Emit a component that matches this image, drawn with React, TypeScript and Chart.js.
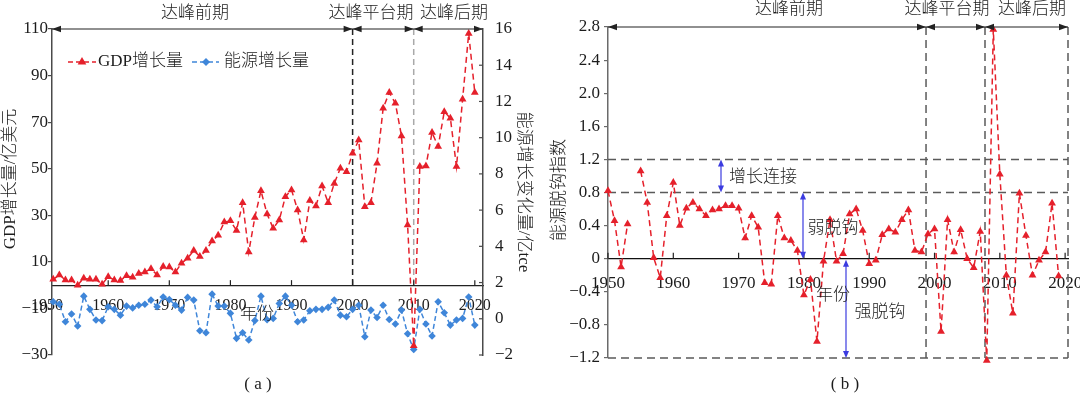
import React, { useEffect, useRef } from 'react';
import { Chart, registerables } from 'chart.js';

Chart.register(...registerables);

const FONT = '"Liberation Serif", "Times New Roman", "Noto Sans CJK SC", serif';
const TEXT = '#1c1c1c';
const RED = '#e5202b';
const BLUE = '#3f86d9';
const ARROW_BLUE = '#3b3be0';
const AXIS_A = '#4a4a4a';
const AXIS_B = '#6a6a6a';
const DASH_GRAY = '#5a5a5a';

// ---------- Panel (a): GDP growth & energy growth ----------
const gdpYears = [
  1951, 1952, 1953, 1954, 1955, 1956, 1957, 1958, 1959, 1960,
  1961, 1962, 1963, 1964, 1965, 1966, 1967, 1968, 1969, 1970,
  1971, 1972, 1973, 1974, 1975, 1976, 1977, 1978, 1979, 1980,
  1981, 1982, 1983, 1984, 1985, 1986, 1987, 1988, 1989, 1990,
  1991, 1992, 1993, 1994, 1995, 1996, 1997, 1998, 1999, 2000,
  2001, 2002, 2003, 2004, 2005, 2006, 2007, 2008, 2009, 2010,
  2011, 2012, 2013, 2014, 2015, 2016, 2017, 2018, 2019, 2020,
];
const gdpGrowth = [
  2.5, 4.4, 2.2, 2.2, 0, 3, 2.5, 2.5, 0.4, 3.6,
  2.2, 2, 4, 3.4, 5, 5.6, 7, 4.4, 8, 7.8,
  5.6, 9.4, 11.6, 14.9, 12.3, 14.9, 19, 21.4, 27.1, 27.6,
  23.5, 35.4, 14.2, 29.1, 40.5, 30.6, 24.4, 28, 38, 40.9,
  32.3, 19.4, 36.3, 34, 42.6, 35.4, 43.7, 50.2, 48.7, 56.6,
  62.3, 33.7, 35.4, 52.3, 76, 82.7, 78.1, 64.1, 25.8, -26,
  50.9, 51.2, 65.5, 59.5, 74.5, 71.7, 50.9, 79.8, 108.1, 82.7,
];
const energyGrowth = [
  0.94, 0.8, -0.16, 0.26, -0.4, 1.25, 0.52, -0.07, -0.1, 0.66,
  0.52, 0.2, 0.7, 0.6, 0.75, 0.8, 1.03, 0.66, 1.2, 1.06,
  0.75, 0.48, 1.18, 1.03, -0.66, -0.77, 1.36, 0.7, 0.7, 0.3,
  -1.08, -0.77, -1.17, -0.1, 1.25, -0.05, 0.02, 0.84, 1.25, 0.75,
  -0.16, -0.07, 0.44, 0.52, 0.52, 0.63, 1.03, 0.2, 0.11, 0.52,
  0.75, -0.99, 0.48, 0.07, 0.75, -0.04, -0.29, 0.48, -0.83, -1.7,
  0.52, -0.29, -0.95, 0.94, 0.33, -0.35, -0.07, 0.02, 1.2, -0.35,
];

// ---------- Panel (b): energy decoupling index ----------
const indexYears = [
  1950, 1951, 1952, 1953, 1954, 1955, 1956, 1957, 1958, 1959,
  1960, 1961, 1962, 1963, 1964, 1965, 1966, 1967, 1968, 1969,
  1970, 1971, 1972, 1973, 1974, 1975, 1976, 1977, 1978, 1979,
  1980, 1981, 1982, 1983, 1984, 1985, 1986, 1987, 1988, 1989,
  1990, 1991, 1992, 1993, 1994, 1995, 1996, 1997, 1998, 1999,
  2000, 2001, 2002, 2003, 2004, 2005, 2006, 2007, 2008, 2009,
  2010, 2011, 2012, 2013, 2014, 2015, 2016, 2017, 2018, 2019,
];
const decouplingIndex: (number | null)[] = [
  0.82, 0.46, -0.1, 0.42, null, 1.06, 0.68, 0.01, -0.23, 0.52,
  0.92, 0.4, 0.61, 0.68, 0.6, 0.52, 0.59, 0.6, 0.64, 0.64,
  0.61, 0.25, 0.52, 0.38, -0.29, -0.31, 0.52, 0.25, 0.22, 0.1,
  -0.44, -0.25, -1.0, -0.03, 0.47, -0.03, 0.06, 0.54, 0.6, 0.34,
  -0.06, -0.02, 0.29, 0.36, 0.32, 0.47, 0.59, 0.1, 0.08, 0.3,
  0.36, -0.88, 0.47, 0.08, 0.35, 0.0, -0.11, 0.33, -1.23, 2.77,
  1.02, -0.2, -0.66, 0.79, 0.28, -0.2, -0.02, 0.08, 0.67, -0.21,
];

// ---------- ticks, labels ----------
const yearTicks = [1950, 1960, 1970, 1980, 1990, 2000, 2010, 2020];
const gdpTicks = [-30, -10, 10, 30, 50, 70, 90, 110];
const energyTicks = [-2, 0, 2, 4, 6, 8, 10, 12, 14, 16];
const indexTicks = [-1.2, -0.8, -0.4, 0, 0.4, 0.8, 1.2, 1.6, 2.0, 2.4, 2.8];
const periodNames = ['达峰前期', '达峰平台期', '达峰后期'];
const periodBoundsA = [2000, 2010];
const periodBoundsB = [1998.7, 2007.73];
const zoneThresholds = [1.2, 0.8];
const zoneNames = ['增长连接', '弱脱钩', '强脱钩'];

function fmtSigned(v: number, dec: number) {
  if (Math.abs(v) < 1e-9) return '0';
  return (v < 0 ? '\u2212' : '') + Math.abs(v).toFixed(dec);
}

function arrowHead(ctx: CanvasRenderingContext2D, x: number, y: number, dx: number, dy: number, len = 8, half = 3.2) {
  ctx.beginPath();
  ctx.moveTo(x, y);
  ctx.lineTo(x - dx * len - dy * half, y - dy * len + dx * half);
  ctx.lineTo(x - dx * len + dy * half, y - dy * len - dx * half);
  ctx.closePath();
  ctx.fill();
}

function text(ctx: CanvasRenderingContext2D, s: string, x: number, y: number, size = 17, align: CanvasTextAlign = 'center', color = TEXT) {
  ctx.save();
  ctx.font = `300 ${size}px ${FONT}`;
  ctx.fillStyle = color;
  ctx.textAlign = align;
  ctx.textBaseline = 'middle';
  ctx.fillText(s, x, y);
  ctx.restore();
}

function vText(ctx: CanvasRenderingContext2D, s: string, x: number, y: number, angle: number, size = 17) {
  ctx.save();
  ctx.translate(x, y);
  ctx.rotate(angle);
  ctx.font = `300 ${size}px ${FONT}`;
  ctx.fillStyle = TEXT;
  ctx.textAlign = 'center';
  ctx.textBaseline = 'middle';
  ctx.fillText(s, 0, 0);
  ctx.restore();
}

function periodArrows(ctx: CanvasRenderingContext2D, xs: number[], y: number) {
  ctx.save();
  ctx.strokeStyle = '#222';
  ctx.fillStyle = '#222';
  ctx.lineWidth = 1.2;
  ctx.setLineDash([]);
  ctx.beginPath();
  ctx.moveTo(xs[0], y);
  ctx.lineTo(xs[xs.length - 1], y);
  ctx.stroke();
  for (let i = 0; i < xs.length - 1; i++) {
    arrowHead(ctx, xs[i], y, -1, 0, 9, 3.2);
    arrowHead(ctx, xs[i + 1], y, 1, 0, 9, 3.2);
  }
  ctx.restore();
}

function vDoubleArrow(ctx: CanvasRenderingContext2D, x: number, y1: number, y2: number) {
  ctx.save();
  ctx.strokeStyle = ARROW_BLUE;
  ctx.fillStyle = ARROW_BLUE;
  ctx.lineWidth = 1.2;
  ctx.beginPath();
  ctx.moveTo(x, y1 + 4);
  ctx.lineTo(x, y2 - 4);
  ctx.stroke();
  arrowHead(ctx, x, y1, 0, -1, 7, 3);
  arrowHead(ctx, x, y2, 0, 1, 7, 3);
  ctx.restore();
}

function triangle(ctx: CanvasRenderingContext2D, x: number, y: number, r: number, color: string) {
  ctx.save();
  ctx.fillStyle = color;
  ctx.beginPath();
  ctx.moveTo(x, y - r);
  ctx.lineTo(x - r * 0.866, y + r * 0.5);
  ctx.lineTo(x + r * 0.866, y + r * 0.5);
  ctx.closePath();
  ctx.fill();
  ctx.restore();
}

function diamond(ctx: CanvasRenderingContext2D, x: number, y: number, r: number, color: string) {
  ctx.save();
  ctx.fillStyle = color;
  ctx.beginPath();
  ctx.moveTo(x, y - r);
  ctx.lineTo(x + r, y);
  ctx.lineTo(x, y + r);
  ctx.lineTo(x - r, y);
  ctx.closePath();
  ctx.fill();
  ctx.restore();
}

const panelAPlugin = {
  id: 'panelA',
  beforeDatasetsDraw(chart: any) {
    const { ctx, scales } = chart;
    const x = scales.x, y = scales.y;
    const yTop = y.getPixelForValue(110);
    const y0 = y.getPixelForValue(0);
    ctx.save();
    ctx.lineWidth = 1.5;
    ctx.setLineDash([6, 4]);
    ctx.strokeStyle = '#222';
    const xa = x.getPixelForValue(periodBoundsA[0]);
    ctx.beginPath(); ctx.moveTo(xa, yTop); ctx.lineTo(xa, y0); ctx.stroke();
    ctx.strokeStyle = '#a9a9a9';
    const xb = x.getPixelForValue(periodBoundsA[1]);
    ctx.beginPath(); ctx.moveTo(xb, yTop); ctx.lineTo(xb, y0); ctx.stroke();
    ctx.restore();
  },
  afterDraw(chart: any) {
    const { ctx, scales, chartArea } = chart;
    const x = scales.x, y = scales.y, y1 = scales.y1;
    const yTop = y.getPixelForValue(110);
    const y0 = y.getPixelForValue(0);
    const xs = [chartArea.left, x.getPixelForValue(periodBoundsA[0]), x.getPixelForValue(periodBoundsA[1]), chartArea.right];
    periodArrows(ctx, xs, yTop);
    text(ctx, periodNames[0], 195, 14);
    text(ctx, periodNames[1], 371, 14);
    text(ctx, periodNames[2], 454, 14);

    // x tick marks (inward, upward)
    ctx.save();
    ctx.strokeStyle = '#222';
    ctx.lineWidth = 1.2;
    yearTicks.forEach((v) => {
      if (v < x.min) return;
      const px = x.getPixelForValue(v);
      ctx.beginPath(); ctx.moveTo(px, y0); ctx.lineTo(px, y0 - 5); ctx.stroke();
    });
    // right axis inward ticks
    ctx.strokeStyle = AXIS_A;
    energyTicks.forEach((v) => {
      const py = y1.getPixelForValue(v);
      ctx.beginPath(); ctx.moveTo(chartArea.right, py); ctx.lineTo(chartArea.right - 4, py); ctx.stroke();
    });
    ctx.restore();

    // legend
    ctx.save();
    ctx.lineWidth = 1.5;
    ctx.setLineDash([5, 3]);
    ctx.strokeStyle = RED;
    ctx.beginPath(); ctx.moveTo(68, 62); ctx.lineTo(96, 62); ctx.stroke();
    ctx.strokeStyle = BLUE;
    ctx.beginPath(); ctx.moveTo(192, 62); ctx.lineTo(219, 62); ctx.stroke();
    ctx.restore();
    triangle(ctx, 82, 62, 5, RED);
    diamond(ctx, 206, 62, 4, BLUE);
    text(ctx, 'GDP增长量', 98, 62, 17, 'left');
    text(ctx, '能源增长量', 224, 62, 17, 'left');

    // axis titles
    vText(ctx, 'GDP增长量/亿美元', 11, 179, -Math.PI / 2);
    vText(ctx, '能源增长变化量/亿tce', 523, 192, Math.PI / 2);
    text(ctx, '年份', 257, 315);
    text(ctx, '( a )', 258, 385);
  },
};

const OFF_B = 540;
const panelBPlugin = {
  id: 'panelB',
  beforeDatasetsDraw(chart: any) {
    const { ctx, scales, chartArea } = chart;
    const x = scales.x, y = scales.y;
    const yTop = y.getPixelForValue(2.8);
    const yBot = y.getPixelForValue(-1.2);
    ctx.save();
    ctx.lineWidth = 1.5;
    ctx.setLineDash([8, 5]);
    ctx.strokeStyle = DASH_GRAY;
    [...zoneThresholds, -1.2].forEach((v) => {
      const py = y.getPixelForValue(v);
      ctx.beginPath(); ctx.moveTo(chartArea.left, py); ctx.lineTo(chartArea.right, py); ctx.stroke();
    });
    [x.getPixelForValue(periodBoundsB[0]), x.getPixelForValue(periodBoundsB[1]), chartArea.right].forEach((px) => {
      ctx.beginPath(); ctx.moveTo(px, yTop); ctx.lineTo(px, yBot); ctx.stroke();
    });
    ctx.restore();
  },
  afterDraw(chart: any) {
    const { ctx, scales, chartArea } = chart;
    const x = scales.x, y = scales.y;
    const yTop = y.getPixelForValue(2.8);
    const y0 = y.getPixelForValue(0);
    const xs = [chartArea.left, x.getPixelForValue(periodBoundsB[0]), x.getPixelForValue(periodBoundsB[1]), chartArea.right];
    periodArrows(ctx, xs, yTop);
    text(ctx, periodNames[0], 789 - OFF_B, 10);
    text(ctx, periodNames[1], 947 - OFF_B, 10);
    text(ctx, periodNames[2], 1032 - OFF_B, 10);

    ctx.save();
    ctx.strokeStyle = '#222';
    ctx.lineWidth = 1.2;
    yearTicks.forEach((v) => {
      const px = x.getPixelForValue(v);
      ctx.beginPath(); ctx.moveTo(px, y0); ctx.lineTo(px, y0 - 6); ctx.stroke();
    });
    ctx.restore();

    // zone annotations
    vDoubleArrow(ctx, 721 - OFF_B, y.getPixelForValue(1.2), y.getPixelForValue(0.8));
    vDoubleArrow(ctx, 803 - OFF_B, y.getPixelForValue(0.8), y.getPixelForValue(0));
    vDoubleArrow(ctx, 846 - OFF_B, y0 + 1, y.getPixelForValue(-1.2));
    text(ctx, zoneNames[0], 763 - OFF_B, 178);
    text(ctx, zoneNames[1], 833 - OFF_B, 229);
    text(ctx, zoneNames[2], 880 - OFF_B, 313);

    vText(ctx, '能源脱钩指数', 560 - OFF_B, 190, -Math.PI / 2);
    text(ctx, '年份', 833 - OFF_B, 296);
    text(ctx, '( b )', 845 - OFF_B, 385);
  },
};

function setTicks(values: number[]) {
  return (s: any) => {
    s.ticks = values.map((v) => ({ value: v }));
  };
}

export default function App() {
  const refA = useRef<HTMLCanvasElement | null>(null);
  const refB = useRef<HTMLCanvasElement | null>(null);

  useEffect(() => {
    const fontTick = (size: number) => ({ family: FONT, size });

    const chartA = new Chart(refA.current as HTMLCanvasElement, {
      type: 'line',
      data: {
        datasets: [
          {
            label: 'GDP增长量',
            data: gdpYears.map((yr, i) => ({ x: yr, y: gdpGrowth[i] })),
            xAxisID: 'x',
            yAxisID: 'y',
            borderColor: RED,
            backgroundColor: RED,
            borderWidth: 1.5,
            borderDash: [6, 4],
            pointStyle: 'triangle',
            pointRadius: 4.5,
            pointBorderWidth: 0,
            pointBackgroundColor: RED,
            pointBorderColor: RED,
            tension: 0,
            clip: false as any,
          },
          {
            label: '能源增长量',
            data: gdpYears.map((yr, i) => ({ x: yr, y: energyGrowth[i] })),
            xAxisID: 'x',
            yAxisID: 'y1',
            borderColor: BLUE,
            backgroundColor: BLUE,
            borderWidth: 1.5,
            borderDash: [5, 3],
            pointStyle: 'rectRot',
            pointRadius: 3.8,
            pointBorderWidth: 0,
            pointBackgroundColor: BLUE,
            pointBorderColor: BLUE,
            tension: 0,
            clip: false as any,
          },
        ],
      },
      options: {
        animation: false,
        responsive: false,
        devicePixelRatio: 1,
        events: [],
        layout: { padding: { top: 29, bottom: 39, left: 0, right: 0 } },
        plugins: { legend: { display: false }, tooltip: { enabled: false } },
        scales: {
          x: {
            type: 'linear',
            min: 1950.8,
            max: 2021.34,
            bounds: 'data',
            position: { y: 0 } as any,
            afterBuildTicks: setTicks(yearTicks),
            afterFit: (s: any) => { s.paddingLeft = 0; s.paddingRight = 0; },
            grid: { display: false },
            border: { display: true, color: '#222', width: 1.2 },
            ticks: {
              autoSkip: false, maxRotation: 0, minRotation: 0, padding: 3,
              color: TEXT, font: fontTick(16),
              callback: (v: any) => String(v),
            },
          },
          y: {
            type: 'linear',
            position: 'left',
            min: -30,
            max: 110,
            bounds: 'data',
            afterBuildTicks: setTicks(gdpTicks),
            afterFit: (s: any) => { s.width = 52; s.paddingTop = 0; s.paddingBottom = 0; },
            grid: { display: true, drawOnChartArea: false, drawTicks: true, tickLength: 4, color: AXIS_A, lineWidth: 1.2 },
            border: { display: true, color: AXIS_A, width: 1.5 },
            ticks: { padding: 0, color: TEXT, font: fontTick(17), callback: (v: any) => fmtSigned(Number(v), 0) },
          },
          y1: {
            type: 'linear',
            position: 'right',
            min: -2,
            max: 16,
            bounds: 'data',
            afterBuildTicks: setTicks(energyTicks),
            afterFit: (s: any) => { s.width = 57; s.paddingTop = 0; s.paddingBottom = 0; },
            grid: { display: false, drawOnChartArea: false },
            border: { display: true, color: AXIS_A, width: 1.5 },
            ticks: { padding: 4, color: TEXT, font: fontTick(17), callback: (v: any) => fmtSigned(Number(v), 0) },
          },
        },
      } as any,
      plugins: [panelAPlugin],
    });

    const chartB = new Chart(refB.current as HTMLCanvasElement, {
      type: 'line',
      data: {
        datasets: [
          {
            label: '能源脱钩指数',
            data: indexYears.map((yr, i) => ({ x: yr, y: decouplingIndex[i] })),
            borderColor: RED,
            backgroundColor: RED,
            borderWidth: 1.5,
            borderDash: [6, 4],
            pointStyle: 'triangle',
            pointRadius: 4.5,
            pointBorderWidth: 0,
            pointBackgroundColor: RED,
            pointBorderColor: RED,
            spanGaps: false,
            tension: 0,
            clip: false as any,
          },
        ],
      },
      options: {
        animation: false,
        responsive: false,
        devicePixelRatio: 1,
        events: [],
        layout: { padding: { top: 27, bottom: 36, left: 0, right: 12 } },
        plugins: { legend: { display: false }, tooltip: { enabled: false } },
        scales: {
          x: {
            type: 'linear',
            min: 1950,
            max: 2020.44,
            bounds: 'data',
            position: { y: 0 } as any,
            afterBuildTicks: setTicks(yearTicks),
            afterFit: (s: any) => { s.paddingLeft = 0; s.paddingRight = 0; },
            grid: { display: false },
            border: { display: true, color: '#111', width: 1.2 },
            ticks: {
              autoSkip: false, maxRotation: 0, minRotation: 0, padding: 7,
              color: TEXT, font: fontTick(17),
              callback: (v: any) => String(v),
            },
          },
          y: {
            type: 'linear',
            position: 'left',
            min: -1.2,
            max: 2.8,
            bounds: 'data',
            afterBuildTicks: setTicks(indexTicks),
            afterFit: (s: any) => { s.width = 68; s.paddingTop = 0; s.paddingBottom = 0; },
            grid: { display: true, drawOnChartArea: false, drawTicks: true, tickLength: 4, color: AXIS_B, lineWidth: 1.2 },
            border: { display: true, color: AXIS_B, width: 1.5 },
            ticks: { padding: 4, color: TEXT, font: fontTick(17), callback: (v: any) => fmtSigned(Number(v), 1) },
          },
        },
      } as any,
      plugins: [panelBPlugin],
    });

    return () => {
      chartA.destroy();
      chartB.destroy();
    };
  }, []);

  return (
    <div style={{ position: 'fixed', left: 0, top: 0, width: 1080, height: 394, background: '#fff' }}>
      <canvas ref={refA} width={540} height={394} style={{ position: 'absolute', left: 0, top: 0, width: 540, height: 394 }} />
      <canvas ref={refB} width={540} height={394} style={{ position: 'absolute', left: 540, top: 0, width: 540, height: 394 }} />
    </div>
  );
}
